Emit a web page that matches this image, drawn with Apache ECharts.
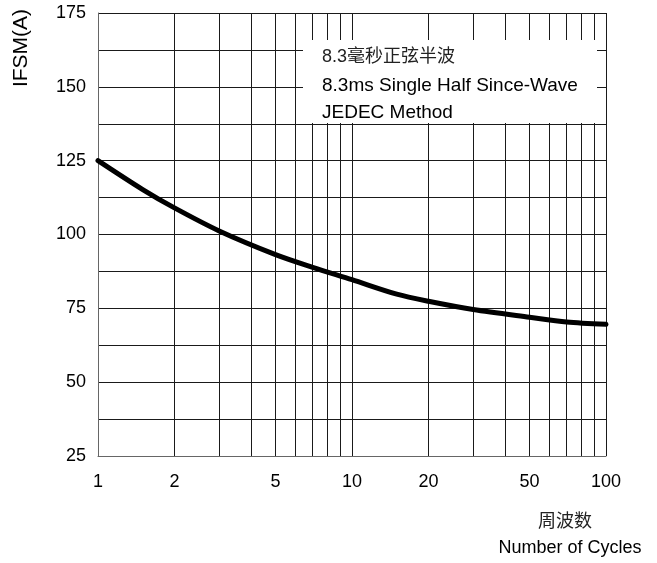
<!DOCTYPE html>
<html>
<head>
<meta charset="utf-8">
<script src="https://cdn.jsdelivr.net/npm/echarts@6/dist/echarts.min.js"></script>
<style>
html,body{margin:0;padding:0;background:#fff;}
#c{width:657px;height:563px;}
</style>
</head>
<body>
<div id="c"></div>
<script>
var cycles = [1, 1.5, 2, 3, 5, 7, 10, 15, 20, 30, 50, 70, 100];
var ifsm = [125, 115.2, 109.0, 101.2, 93.2, 88.9, 84.7, 79.8, 77.4, 74.6, 72.0, 70.4, 69.6];
var xTickLabels = [1, 2, 5, 10, 20, 50, 100];
var xGridValues = [1, 2, 3, 4, 5, 6, 7, 8, 9, 10, 20, 30, 40, 50, 60, 70, 80, 90, 100];
var yMin = 25, yMax = 175, yGridStep = 12.5, yLabelStep = 25;
var noteLines = ['8.3毫秒正弦半波', '8.3ms Single Half Since-Wave', 'JEDEC Method'];
var yName = 'IFSM(A)';
var xNameCn = '周波数';
var xNameEn = 'Number of Cycles';

var FONT = '"Liberation Sans", Arial, sans-serif';
var chart = echarts.init(document.getElementById('c'));
var data = cycles.map(function (c, i) { return [c, ifsm[i]]; });

chart.setOption({
  animation: false,
  backgroundColor: '#fff',
  grid: { left: 98, right: 51, top: 13, bottom: 107, containLabel: false },
  xAxis: {
    type: 'log',
    logBase: 10,
    min: 1,
    max: 100,
    axisLine: { show: true, lineStyle: { color: '#666', width: 1 } },
    axisTick: { show: false, customValues: xGridValues },
    axisLabel: {
      customValues: xTickLabels,
      color: '#000',
      fontFamily: FONT,
      fontSize: 18,
      margin: 17,
      formatter: function (v) { return String(v); }
    },
    splitLine: { show: true, lineStyle: { color: '#1a1a1a', width: 1 } },
    minorSplitLine: { show: false }
  },
  yAxis: {
    type: 'value',
    min: yMin,
    max: yMax,
    interval: yGridStep,
    axisLine: { show: true, lineStyle: { color: '#666', width: 1 } },
    axisTick: { show: false },
    axisLabel: {
      color: '#000',
      fontFamily: FONT,
      fontSize: 18,
      margin: 12,
      formatter: function (v) { return (v % yLabelStep === 0) ? String(v) : ''; }
    },
    splitLine: { show: true, lineStyle: { color: '#1a1a1a', width: 1 } }
  },
  series: [{
    type: 'line',
    data: data,
    smooth: 0.3,
    symbol: 'none',
    lineStyle: { color: '#000', width: 5, cap: 'round' },
    z: 10
  }],
  graphic: [
    {
      type: 'rect', left: 303, top: 40, z: 100,
      shape: { width: 294, height: 83 },
      style: { fill: '#fff', stroke: null }
    },
    {
      type: 'text', x: 322, y: 57, z: 101,
      style: { text: noteLines[0], fill: '#222', font: '18px "Liberation Sans", "Noto Sans CJK SC", sans-serif', textVerticalAlign: 'middle' }
    },
    {
      type: 'text', x: 322, y: 86, z: 101,
      style: { text: noteLines[1], fill: '#000', font: '19px ' + FONT, textVerticalAlign: 'middle' }
    },
    {
      type: 'text', x: 322, y: 113, z: 101,
      style: { text: noteLines[2], fill: '#000', font: '19px ' + FONT, textVerticalAlign: 'middle' }
    },
    {
      type: 'text', x: 21, y: 48, rotation: Math.PI / 2, z: 101,
      style: { text: yName, fill: '#000', font: '21px ' + FONT, textAlign: 'center', textVerticalAlign: 'middle' }
    },
    {
      type: 'text', x: 565, y: 520, z: 101,
      style: { text: xNameCn, fill: '#222', font: '18px "Noto Sans CJK SC", sans-serif', textAlign: 'center', textVerticalAlign: 'middle' }
    },
    {
      type: 'text', x: 570, y: 548, z: 101,
      style: { text: xNameEn, fill: '#000', font: '18px ' + FONT, textAlign: 'center', textVerticalAlign: 'middle' }
    }
  ]
});
</script>
</body>
</html>
